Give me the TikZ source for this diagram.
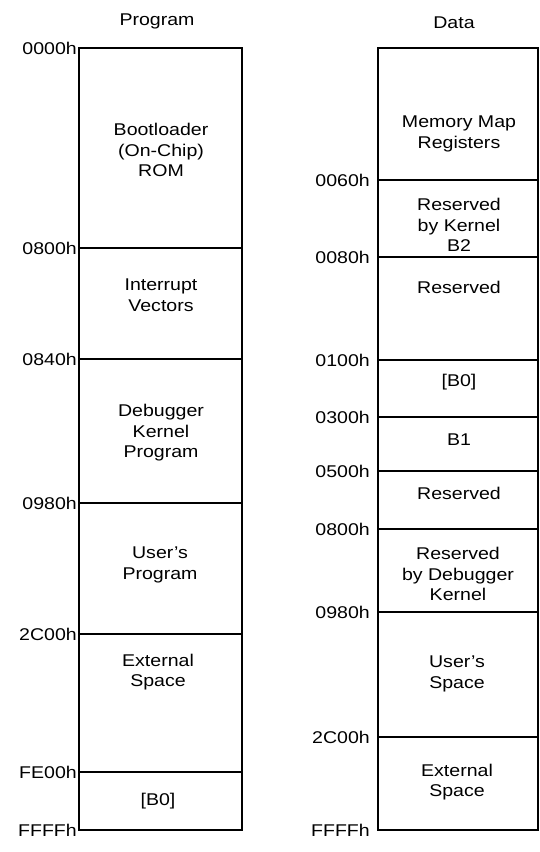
\documentclass[tikz,border=0pt]{standalone}
\usepackage{fontspec}
\setmainfont[FakeStretch=1.15]{Liberation Sans}

\begin{document}
\begin{tikzpicture}[x=1pt,y=-1pt,
    region/.style={draw,line width=1.5pt},
    addr/.style={anchor=east,inner sep=0pt,font=\fontsize{17}{20}\selectfont},
    memtext/.style={align=center,inner sep=0pt,font=\fontsize{17}{20.5}\selectfont}]
\useasboundingbox (0,0) rectangle (540,852);

% column headings
\node[memtext] (proghead) at (157,21) {Program};
\node[memtext] (datahead) at (454,23) {Data};

% program space
\draw[region] (79,48) rectangle (242,830);
\foreach \y/\a in {48/0000h,248/0800h,359/0840h,503/0980h,634/2C00h,772/FE00h,830/FFFFh} {
  \draw[region] (79,\y) -- (242,\y);
  \node[addr] (p\a) at (77,\y) {\a};
}
\node[memtext] (boot) at (161,150) {Bootloader\\(On-Chip)\\ROM};
\node[memtext] (vect) at (161,295) {Interrupt\\Vectors};
\node[memtext] (dbgprog) at (161,433) {Debugger\\Kernel\\Program};
\node[memtext] (userprog) at (160,565) {User's\\Program};
\node[memtext] (pext) at (158,672) {External\\Space};
\node[memtext] (pbzero) at (158,801) {[B0]};

% data space
\draw[region] (378,48) rectangle (538,830);
\foreach \y/\a in {180/0060h,257/0080h,360/0100h,417/0300h,471/0500h,529/0800h,612/0980h,737/2C00h,830/FFFFh} {
  \draw[region] (378,\y) -- (538,\y);
  \node[addr] (d\a) at (370,\y) {\a};
}
\node[memtext] (mmr) at (459,134) {Memory Map\\Registers};
\node[memtext] (resktwo) at (459,225) {Reserved\\by Kernel\\B2};
\node[memtext] (resone) at (459,287) {Reserved};
\node[memtext] (dbzero) at (459,382) {[B0]};
\node[memtext] (bone) at (459,440) {B1};
\node[memtext] (restwo) at (459,493) {Reserved};
\node[memtext] (resdbg) at (458,574) {Reserved\\by Debugger\\Kernel};
\node[memtext] (userspace) at (457,674) {User's\\Space};
\node[memtext] (dext) at (457,782) {External\\Space};
\end{tikzpicture}
\end{document}
